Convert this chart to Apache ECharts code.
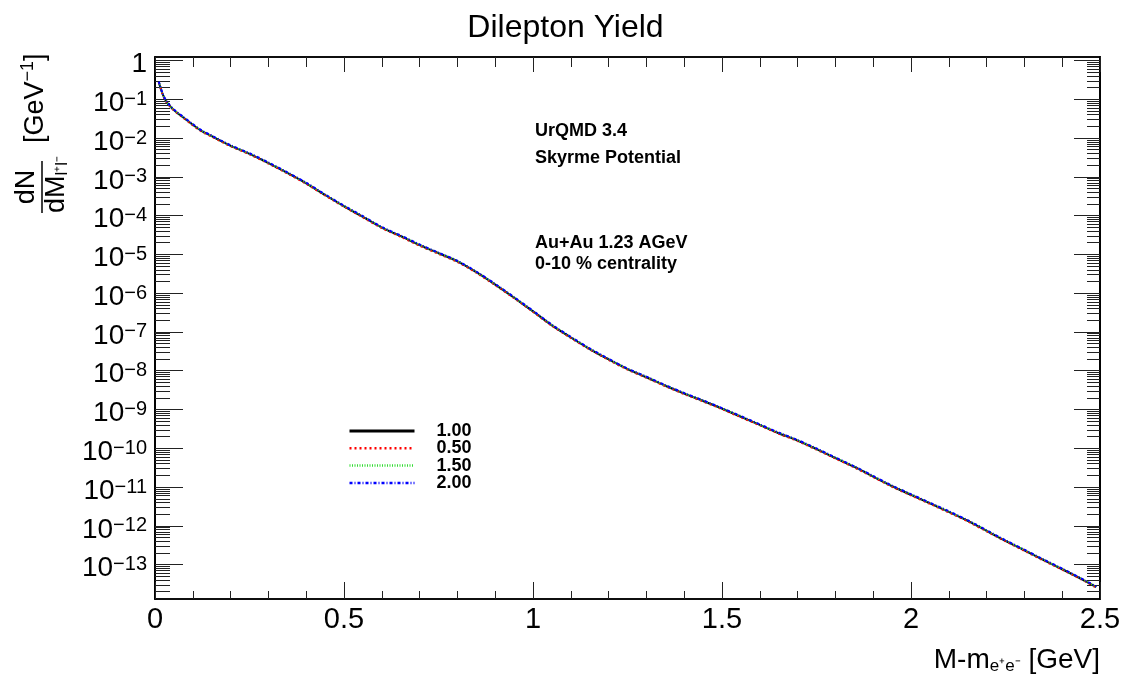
<!DOCTYPE html>
<html>
<head>
<meta charset="utf-8">
<title>Dilepton Yield</title>
<script src="https://cdn.jsdelivr.net/npm/echarts@6/dist/echarts.min.js"></script>
<style>
  html, body { margin: 0; padding: 0; background: #fff; }
  #chart { width: 1131px; height: 684px; }
</style>
</head>
<body>
<div id="chart"></div>
<script>
// Invariant mass above the e+e- threshold [GeV]
const massBins = [
  0.01, 0.02, 0.03, 0.04, 0.05, 0.06, 0.075, 0.10, 0.125, 0.15, 0.175, 0.20,
  0.25, 0.30, 0.35, 0.40, 0.45, 0.50, 0.55, 0.60, 0.65, 0.70, 0.75, 0.80,
  0.85, 0.90, 0.95, 1.00, 1.05, 1.10, 1.15, 1.20, 1.25, 1.30, 1.35, 1.40,
  1.45, 1.50, 1.55, 1.60, 1.65, 1.70, 1.75, 1.80, 1.85, 1.90, 1.95, 2.00,
  2.05, 2.10, 2.15, 2.20, 2.25, 2.30, 2.35, 2.40, 2.45, 2.49
];

// dN/dM [1/GeV] for each setting
const yield100 = [
  2.75e-1, 1.38e-1, 8.7e-2, 6.6e-2, 5.25e-2, 4.37e-2, 3.39e-2, 2.19e-2, 1.48e-2, 1.12e-2, 8.3e-3, 6.3e-3,
  3.9e-3, 2.26e-3, 1.26e-3, 6.8e-4, 3.4e-4, 1.74e-4, 9.3e-5, 4.9e-5, 2.95e-5, 1.74e-5, 1.07e-5, 6.6e-6,
  3.47e-6, 1.66e-6, 7.6e-7, 3.39e-7, 1.48e-7, 7.2e-8, 3.63e-8, 1.95e-8, 1.10e-8, 6.8e-9, 4.1e-9, 2.57e-9,
  1.66e-9, 1.05e-9, 6.5e-10, 4.0e-10, 2.45e-10, 1.58e-10, 9.5e-11, 5.6e-11, 3.3e-11, 1.86e-11, 1.05e-11, 6.3e-12,
  3.8e-12, 2.29e-12, 1.35e-12, 7.4e-13, 4.1e-13, 2.34e-13, 1.32e-13, 7.6e-14, 4.3e-14, 2.63e-14
];
const yield050 = [
  2.72e-1, 1.36e-1, 8.6e-2, 6.5e-2, 5.15e-2, 4.3e-2, 3.33e-2, 2.13e-2, 1.44e-2, 1.09e-2, 8.1e-3, 6.15e-3,
  3.8e-3, 2.2e-3, 1.22e-3, 6.6e-4, 3.3e-4, 1.69e-4, 9.0e-5, 4.75e-5, 2.85e-5, 1.68e-5, 1.03e-5, 6.4e-6,
  3.36e-6, 1.61e-6, 7.4e-7, 3.3e-7, 1.44e-7, 7.0e-8, 3.53e-8, 1.9e-8, 1.07e-8, 6.6e-9, 4.0e-9, 2.5e-9,
  1.61e-9, 1.02e-9, 6.3e-10, 3.9e-10, 2.38e-10, 1.54e-10, 9.2e-11, 5.45e-11, 3.2e-11, 1.81e-11, 1.02e-11, 6.1e-12,
  3.7e-12, 2.22e-12, 1.31e-12, 7.2e-13, 4.0e-13, 2.27e-13, 1.28e-13, 7.4e-14, 4.2e-14, 2.55e-14
];
const yield150 = [
  2.78e-1, 1.39e-1, 8.8e-2, 6.65e-2, 5.3e-2, 4.4e-2, 3.42e-2, 2.21e-2, 1.5e-2, 1.13e-2, 8.4e-3, 6.35e-3,
  3.93e-3, 2.28e-3, 1.27e-3, 6.85e-4, 3.43e-4, 1.76e-4, 9.4e-5, 4.95e-5, 2.98e-5, 1.76e-5, 1.08e-5, 6.7e-6,
  3.5e-6, 1.68e-6, 7.7e-7, 3.42e-7, 1.5e-7, 7.3e-8, 3.67e-8, 1.97e-8, 1.11e-8, 6.9e-9, 4.15e-9, 2.6e-9,
  1.68e-9, 1.06e-9, 6.6e-10, 4.05e-10, 2.48e-10, 1.6e-10, 9.6e-11, 5.7e-11, 3.35e-11, 1.88e-11, 1.06e-11, 6.4e-12,
  3.85e-12, 2.32e-12, 1.37e-12, 7.5e-13, 4.15e-13, 2.37e-13, 1.34e-13, 7.7e-14, 4.35e-14, 2.66e-14
];
const yield200 = [
  2.85e-1, 1.42e-1, 9.0e-2, 6.85e-2, 5.45e-2, 4.53e-2, 3.52e-2, 2.28e-2, 1.54e-2, 1.16e-2, 8.6e-3, 6.55e-3,
  4.05e-3, 2.35e-3, 1.31e-3, 7.05e-4, 3.53e-4, 1.81e-4, 9.65e-5, 5.1e-5, 3.07e-5, 1.81e-5, 1.11e-5, 6.85e-6,
  3.6e-6, 1.73e-6, 7.9e-7, 3.52e-7, 1.54e-7, 7.5e-8, 3.77e-8, 2.03e-8, 1.14e-8, 7.05e-9, 4.25e-9, 2.67e-9,
  1.72e-9, 1.09e-9, 6.75e-10, 4.15e-10, 2.55e-10, 1.64e-10, 9.9e-11, 5.8e-11, 3.43e-11, 1.93e-11, 1.09e-11, 6.55e-12,
  3.95e-12, 2.38e-12, 1.4e-12, 7.7e-13, 4.25e-13, 2.43e-13, 1.37e-13, 7.9e-14, 4.45e-14, 2.73e-14
];

const seriesNames = ['1.00', '0.50', '1.50', '2.00'];

// Axis ranges and tick labels
const xRange = [0, 2.5];
const yRange = [1.3e-14, 1.23];
const yMajorTicks = [1, 1e-1, 1e-2, 1e-3, 1e-4, 1e-5, 1e-6, 1e-7, 1e-8, 1e-9, 1e-10, 1e-11, 1e-12, 1e-13];
const yTickLabels = ['1', '10{s|−1}', '10{s|−2}', '10{s|−3}', '10{s|−4}', '10{s|−5}', '10{s|−6}',
  '10{s|−7}', '10{s|−8}', '10{s|−9}', '10{s|−10}', '10{s|−11}', '10{s|−12}', '10{s|−13}'];

// Minor log ticks at 2..9 x 10^n inside the range
const yMinorTicks = [];
for (let e = -14; e <= 0; e++) {
  for (let k = 2; k <= 9; k++) {
    const v = k * Math.pow(10, e);
    if (v > yRange[0] && v < yRange[1]) yMinorTicks.push(v);
  }
}

const FONT = '"Liberation Sans", Arial, Helvetica, sans-serif';

function pairs(ys) {
  return massBins.map((x, i) => [x, ys[i]]);
}

const chart = echarts.init(document.getElementById('chart'), null, { renderer: 'canvas' });

function yAxisBase(position, ticks, len, withLabels) {
  return {
    type: 'log',
    position: position,
    min: yRange[0],
    max: yRange[1],
    axisLine: { show: true, onZero: false, lineStyle: { color: '#000', width: 1.5 } },
    axisTick: {
      show: true, inside: true, length: len, customValues: ticks,
      lineStyle: { color: '#222', width: 1 }
    },
    axisLabel: withLabels ? {
      show: true,
      customValues: yMajorTicks,
      showMinLabel: true,
      showMaxLabel: true,
      hideOverlap: false,
      margin: 8,
      color: '#000',
      fontFamily: FONT,
      formatter: function (v) {
        let idx = 0, best = Infinity;
        yMajorTicks.forEach((t, i) => {
          const d = Math.abs(Math.log10(t) - Math.log10(v));
          if (d < best) { best = d; idx = i; }
        });
        return yTickLabels[idx];
      },
      rich: {
        s: { fontSize: 20, lineHeight: 14, verticalAlign: 'top', fontFamily: FONT, color: '#000' }
      },
      fontSize: 28,
      lineHeight: 28,
      padding: [8, 0, 0, 0]
    } : { show: false },
    splitLine: { show: false },
    minorTick: { show: false },
    minorSplitLine: { show: false }
  };
}

function xAxisBase(position, majorLen, minorLen, withLabels) {
  return {
    type: 'value',
    position: position,
    min: xRange[0],
    max: xRange[1],
    interval: 0.5,
    axisLine: { show: true, onZero: false, lineStyle: { color: '#000', width: 1.5 } },
    axisTick: { show: true, inside: true, length: majorLen, lineStyle: { color: '#222', width: 1 } },
    minorTick: { show: true, splitNumber: 5, length: minorLen, lineStyle: { color: '#222', width: 1 } },
    axisLabel: withLabels ? {
      show: true, margin: 6, fontSize: 29, color: '#000', fontFamily: FONT,
      showMinLabel: true, showMaxLabel: true
    } : { show: false },
    splitLine: { show: false },
    minorSplitLine: { show: false }
  };
}

const lineStyles = [
  { color: '#000000', width: 2, type: 'solid' },
  { color: '#ff0000', width: 2, type: [2, 3] },
  { color: '#33dd33', width: 2, type: [1, 1.5] },
  { color: '#0000ff', width: 2, type: [3, 2, 1, 2] }
];
const yieldSets = [yield100, yield050, yield150, yield200];

const option = {
  animation: false,
  backgroundColor: '#ffffff',
  textStyle: { fontFamily: FONT },
  title: {
    text: 'Dilepton Yield',
    left: 'center',
    top: 7,
    textStyle: { fontSize: 32, fontWeight: 'normal', color: '#000', fontFamily: FONT }
  },
  grid: {
    left: 155, top: 57, width: 945, height: 542,
    show: true, borderColor: '#000', borderWidth: 1.5,
    outerBoundsMode: 'none'
  },
  legend: {
    orient: 'vertical',
    left: 348,
    top: 422,
    padding: 0,
    itemWidth: 65,
    itemHeight: 14,
    itemGap: -0.7,
    selectedMode: false,
    textStyle: {
      fontSize: 18, fontWeight: 'bold', color: '#000', fontFamily: FONT,
      lineHeight: 14, padding: [0, 0, 0, 17]
    },
    data: seriesNames.map((n, i) => ({
      name: n,
      itemStyle: { opacity: 0 },
      lineStyle: { width: i === 0 ? 3 : 2.5 }
    }))
  },
  xAxis: [
    xAxisBase('bottom', 17, 8, true),
    xAxisBase('top', 15, 10, false)
  ],
  yAxis: [
    yAxisBase('left', yMajorTicks, 28, true),
    yAxisBase('left', yMinorTicks, 15, false),
    yAxisBase('right', yMajorTicks, 26, false),
    yAxisBase('right', yMinorTicks, 13, false)
  ],
  series: seriesNames.map((n, i) => ({
    name: n,
    type: 'line',
    xAxisIndex: 0,
    yAxisIndex: 0,
    data: pairs(yieldSets[i]),
    symbol: 'none',
    smooth: 0.3,
    lineStyle: lineStyles[i],
    itemStyle: { color: lineStyles[i].color },
    z: 2 + i
  })),
  graphic: [
    // annotations
    { type: 'text', left: 535, top: 122, style: { text: 'UrQMD 3.4', font: 'bold 18px ' + FONT, fill: '#000' } },
    { type: 'text', left: 535, top: 149, style: { text: 'Skyrme Potential', font: 'bold 18px ' + FONT, fill: '#000' } },
    { type: 'text', left: 535, top: 234, style: { text: 'Au+Au 1.23 AGeV', font: 'bold 18px ' + FONT, fill: '#000' } },
    { type: 'text', left: 535, top: 255, style: { text: '0-10 % centrality', font: 'bold 18px ' + FONT, fill: '#000' } },
    // x-axis title
    {
      type: 'text', right: 31, top: 646,
      style: {
        text: '{a|M-m}{b|e⁺e⁻}{a| [GeV]}',
        rich: {
          a: { fontSize: 28, lineHeight: 30, fontFamily: FONT, fill: '#000' },
          b: { fontSize: 17, lineHeight: 14, verticalAlign: 'bottom', fontFamily: FONT, fill: '#000' }
        },
        fill: '#000'
      }
    },
    // y-axis title: dN / dM_{l+l-} [GeV^-1], rotated
    {
      type: 'group',
      x: 42, y: 213,
      rotation: Math.PI / 2,
      children: [
        { type: 'line', shape: { x1: 0, y1: 0, x2: 52, y2: 0 }, style: { stroke: '#000', lineWidth: 1.5 } },
        {
          type: 'text', x: 26, y: -2,
          style: { text: 'dN', fontSize: 27, fontFamily: FONT, fill: '#000', align: 'center', verticalAlign: 'bottom' }
        },
        {
          type: 'text', x: 0, y: 1,
          style: {
            text: '{a|dM}{b|l⁺l⁻}',
            rich: {
              a: { fontSize: 27, lineHeight: 28, fontFamily: FONT, fill: '#000' },
              b: { fontSize: 17, lineHeight: 14, verticalAlign: 'bottom', fontFamily: FONT, fill: '#000' }
            },
            align: 'left', verticalAlign: 'top'
          }
        },
        {
          type: 'text', x: 70, y: -6,
          style: {
            text: '{a|[GeV}{s|−1}{a|]}',
            rich: {
              a: { fontSize: 27, lineHeight: 34, fontFamily: FONT, fill: '#000' },
              s: { fontSize: 18, lineHeight: 18, verticalAlign: 'top', fontFamily: FONT, fill: '#000' }
            },
            align: 'left', verticalAlign: 'middle'
          }
        }
      ]
    }
  ]
};

chart.setOption(option);
</script>
</body>
</html>
